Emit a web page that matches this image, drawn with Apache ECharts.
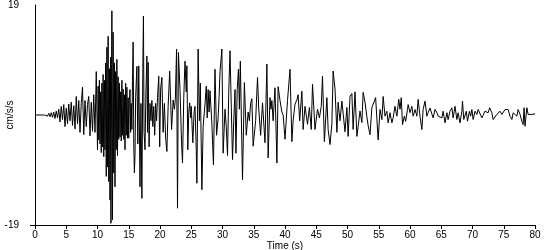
<!DOCTYPE html>
<html>
<head>
<meta charset="utf-8">
<script src="https://cdn.jsdelivr.net/npm/echarts@6/dist/echarts.min.js"></script>
<style>
html,body{margin:0;padding:0;background:#fff;}
#chart{width:550px;height:250px;}
</style>
</head>
<body>
<div id="chart"></div>
<script>
// [time (s), acceleration (cm/s/s)]
const preEvent = [
  [0,0],[1.5,0],[1.8,0.2],[2.0,-0.2],[2.2,0.3],[2.4,-0.3],[2.6,0.4],[2.8,-0.4],[3.0,0.5],[3.2,-0.6],
  [3.4,0.7],[3.6,-0.5],[3.8,1.0],[4.0,-1.2],[4.2,1.5],[4.4,-0.8],[4.6,1.8],[4.8,-2.0],[5.0,1.2],[5.2,-1.5],
  [5.4,1.9],[5.6,-1.0],[5.8,2.2],[6.0,-1.8],[6.2,1.6],[6.4,-2.4],[6.6,3.2],[6.8,-1.5],[7.0,2.5],[7.2,-3.0],
  [7.4,2.0],[7.6,4.8],[7.8,-3.4],[8.0,2.5],[8.2,-2.0],[8.4,1.8],[8.6,3.2],[8.8,-3.6],[9.0,2.2],[9.2,-2.8],
  [9.4,3.5],[9.6,-3.0],[9.8,7.5]
];
const strongMotion = [
  [10.0,-6.0],[10.1,5.0],[10.2,-4.3],[10.3,6.0],[10.4,-5.0],[10.5,4.0],[10.6,-6.5],[10.7,5.5],[10.8,-5.5],[10.9,7.0],
  [11.0,-7.2],[11.1,6.0],[11.2,-6.0],[11.3,9.0],[11.4,-10.6],[11.5,11.7],[11.6,-9.0],[11.7,13.6],[11.8,-11.5],[11.9,8.0],
  [12.0,-14.7],[12.1,10.0],[12.15,-18.7],[12.25,6.0],[12.3,18.0],[12.4,-18.1],[12.5,14.3],[12.6,-10.0],[12.7,9.0],[12.8,-12.4],
  [12.9,7.5],[13.0,-6.0],[13.1,9.6],[13.2,-7.0],[13.3,6.6],[13.4,-4.2],[13.5,5.5],[13.6,-3.8],[13.7,4.0],[13.8,-4.5],
  [13.9,6.0],[14.0,-3.5],[14.1,4.5],[14.2,-4.2],[14.3,3.5],[14.4,-6.0],[14.5,5.5],[14.6,-3.5],[14.7,4.8],[14.8,-4.0],
  [14.9,3.0],[15.0,-4.0],[15.1,2.5],[15.2,4.4],[15.3,-3.0],[15.4,2.0],[15.5,-2.5],[15.6,6.0],[15.7,12.6],[15.8,-5.0],
  [15.9,-10.0],[16.0,-7.0],[16.1,3.0],[16.3,8.4],[16.45,-5.0],[16.6,8.5],[16.8,-12.4],[16.95,2.0],[17.1,-14.4],[17.25,8.0],
  [17.35,17.1],[17.45,-3.0],[17.6,-6.0],[17.75,4.0],[17.9,10.2],[18.0,-3.0],[18.1,9.1],[18.25,-5.5],[18.4,2.0],[18.55,-1.0],
  [18.7,2.5],[18.85,-2.0],[19.0,1.5],[19.15,-3.5],[19.3,2.0],[19.45,-1.0],[19.6,3.0],[19.8,6.7],[19.95,-5.5],[20.1,4.5],
  [20.3,6.5],[20.5,-3.0],[20.7,2.0],[20.9,-4.0],[21.1,-6.3],[21.3,1.5],[21.55,7.6],[21.85,-2.5],[22.1,2.6],[22.3,1.0],
  [22.45,2.6],[22.65,11.4],[22.8,-16.1],[22.95,10.8],[23.2,4.4],[23.45,-4.8],[23.6,-8.3],[23.8,3.0],[24.0,9.3],[24.2,4.0],
  [24.3,8.5],[24.45,-6.0],[24.6,0.5],[24.75,2.1],[24.9,-0.5],[25.0,1.5],[25.25,-4.8],[25.45,0.5],[25.6,1.5],[25.8,-6.0],
  [25.9,-11.8],[26.1,11.4],[26.3,-1.0],[26.45,5.5],[26.7,-12.9],[26.9,-2.0],[27.2,1.9],[27.4,5.0],[27.55,-0.5],[27.7,4.4],
  [27.85,0.5],[28.0,4.2],[28.3,-1.5],[28.55,-8.6],[28.8,7.9],[29.05,-3.5],[29.3,-0.5],[29.45,3.0],[29.6,7.5],[29.9,11.4]
];
const midCoda = [
  [30.1,-6.6],[30.4,1.0],[30.6,-2.0],[30.8,-7.0],[31.0,4.0],[31.2,11.1],[31.6,-7.7],[31.8,-1.0],[32.0,4.4],[32.15,-6.6],
  [32.35,4.4],[32.55,7.9],[32.7,1.0],[32.85,9.3],[33.2,-11.2],[33.5,5.6],[33.8,-3.5],[34.1,0.5],[34.3,-1.0],[34.5,2.0],
  [34.7,2.8],[34.9,-5.4],[35.3,-1.0],[35.6,6.5],[35.8,1.0],[36.1,-3.5],[36.4,2.1],[36.8,-4.8],[37.1,8.8],[37.3,-7.4],
  [37.6,3.0],[37.75,1.0],[37.9,2.5],[38.1,-1.0],[38.4,4.7],[38.7,-8.3],[38.9,4.9],[39.2,2.5],[39.5,0.5],[39.7,0],
  [40.0,-4.2],[40.4,2.5],[40.8,7.9],[41.1,-4.6],[41.3,-1.0],[41.6,1.9],[41.9,2.6],[42.1,3.5],[42.35,-1.0],[42.7,4.1],
  [42.9,-2.5],[43.2,1.5],[43.6,-1.6],[43.9,1.3],[44.2,-2.5],[44.4,5.3],[44.8,-2.5],[45.2,1.0],[45.5,-0.5],[45.8,1.5],
  [46.0,6.7],[46.3,-4.6],[46.7,3.0],[46.9,-2.5],[47.2,-5.1],[47.5,-1.5],[47.7,7.6],[48.0,4.5],[48.3,-3.0],[48.5,2.2],
  [48.8,-1.0],[49.1,2.4],[49.3,2.6],[49.6,-2.9],[49.9,1.3],[50.1,-3.7],[50.4,3.2],[50.7,3.7],[50.9,-2.5],[51.2,4.0],
  [51.5,-3.7],[51.7,-2.0],[52.0,0.7],[52.3,-1.3],[52.5,3.9],[52.8,2.2],[53.1,-0.3],[53.3,-1.8],[53.6,-3.4],[53.9,1.3],
  [54.2,1.0],[54.5,3.0],[54.9,-4.3]
];
const lateCoda = [
  [55.2,0.95],[55.5,-0.8],[55.7,3.2],[56.0,-0.2],[56.3,0.66],[56.5,-1.35],[56.8,0.4],[57.1,-1.35],[57.3,-0.5],[57.6,1.5],
  [57.9,-0.2],[58.2,2.7],[58.4,1.0],[58.6,3.0],[58.8,-1.65],[59.1,-0.2],[59.3,-1.1],[59.6,0.95],[59.7,1.8],[60.0,0.4],
  [60.3,1.5],[60.5,-0.2],[60.8,0.95],[61.1,-0.2],[61.3,2.7],[61.6,-0.2],[61.9,-2.5],[62.1,0.95],[62.4,2.4],[62.7,-0.2],
  [62.9,0.4],[63.2,1.2],[63.5,0.95],[63.7,-0.5],[64.0,0.95],[64.3,0.4],[64.5,-0.2],[64.8,0.1],[65.1,-0.5],[65.3,0.66],
  [65.6,-1.35],[65.9,0.4],[66.1,-0.8],[66.4,0.66],[66.7,1.25],[66.9,-0.5],[67.2,1.5],[67.5,-0.78],[67.7,0.38],[68.0,-1.36],
  [68.3,0.66],[68.4,2.4],[68.6,-0.78],[69.0,0.66],[69.2,-1.07],[69.5,0.66],[69.7,-0.2],[69.9,0.95],[70.1,-0.78],[70.4,0.66],
  [70.7,0.1],[70.9,0.95],[71.2,1.25],[71.5,-0.5],[71.7,-0.2],[72.0,0.66],[72.3,0.85],[72.5,0.38],[72.75,1.25],[73.1,0.38],
  [73.3,-0.78],[73.6,-0.5],[73.9,0.1],[74.1,-0.2],[74.4,0.66],[74.7,0.1],[74.9,0.1],[75.2,0.95],[75.5,1.25],[75.7,0.95],
  [76.0,-0.2],[76.3,-0.78],[76.5,0.38],[76.8,0.38],[77.1,-0.2],[77.3,0.95],[77.6,0.1],[77.9,-1.07],[78.1,-1.65],[78.25,1.25],
  [78.4,-1.94],[78.7,1.25],[78.9,0.1],[79.2,0.38],[79.5,0.1],[80.0,0.2]
];
const yLabelValues = [-19, 19];
const xTickStep = 5;

const font = 'Liberation Sans, Arial, sans-serif';
const chart = echarts.init(document.getElementById('chart'), null, {renderer: 'canvas'});
chart.setOption({
  animation: false,
  backgroundColor: '#ffffff',
  grid: {left: 35, right: 15, top: 5, bottom: 25, containLabel: false, outerBoundsMode: 'none'},
  xAxis: {
    type: 'value', min: 0, max: 80, interval: xTickStep,
    name: 'Time (s)', nameLocation: 'middle', nameGap: 16, nameMoveOverlap: false,
    nameTextStyle: {color: '#000', fontSize: 10, fontFamily: font, verticalAlign: 'top'},
    axisLine: {show: true, onZero: false, lineStyle: {color: '#000', width: 1}},
    axisTick: {show: true, inside: false, length: 4, lineStyle: {color: '#000'}},
    axisLabel: {color: '#000', fontSize: 10, fontFamily: font, margin: 5},
    splitLine: {show: false}
  },
  yAxis: {
    type: 'value', min: -19, max: 19,
    name: 'cm/s/s', nameLocation: 'middle', nameGap: 20, nameRotate: 90, nameMoveOverlap: false,
    nameTextStyle: {color: '#000', fontSize: 10, fontFamily: font},
    axisLine: {show: true, onZero: false, lineStyle: {color: '#000', width: 1}},
    axisTick: {show: true, length: 5, customValues: [-19], lineStyle: {color: '#000'}},
    axisLabel: {color: '#000', fontSize: 10, fontFamily: font, margin: 16, customValues: yLabelValues},
    splitLine: {show: false}
  },
  series: [{
    type: 'line',
    data: preEvent.concat(strongMotion, midCoda, lateCoda),
    showSymbol: false,
    symbol: 'none',
    lineStyle: {color: '#000', width: 1},
    silent: true
  }]
});
</script>
</body>
</html>
